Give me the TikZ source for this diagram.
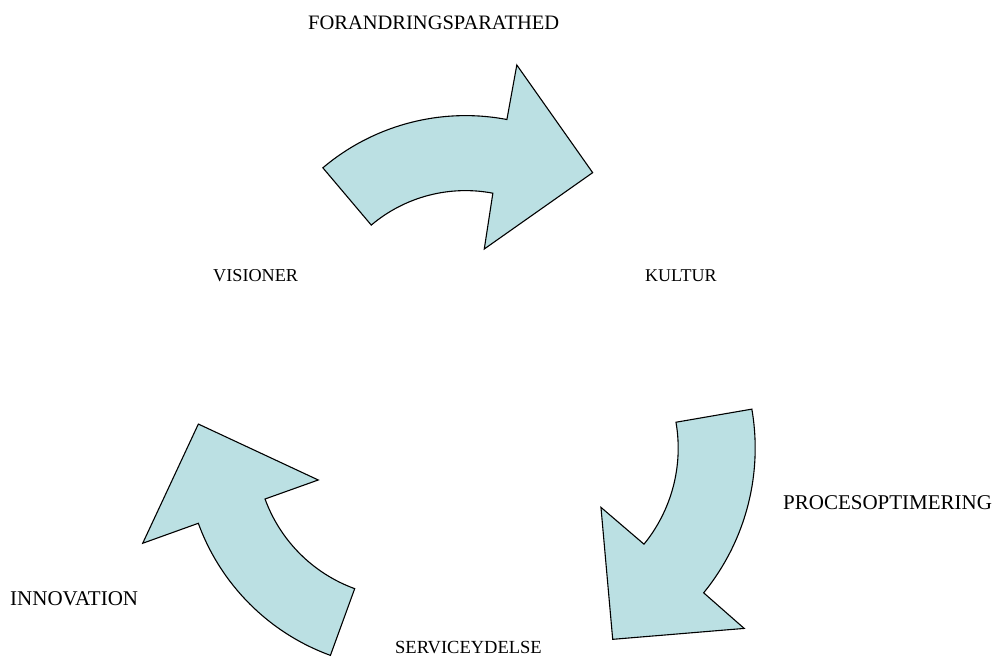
\documentclass[tikz,border=0pt]{standalone}
\usepackage{fontspec}
\setmainfont{Liberation Serif}
\definecolor{arrowfill}{RGB}{187,224,227}
\begin{document}
\begin{tikzpicture}[x=1pt,y=1pt,
  cyclearrow/.style={fill=arrowfill,draw=black,line width=1.1pt,line join=miter},
  lbl/.style={anchor=base west,inner sep=0pt,text=black}]
\useasboundingbox (0,0) rectangle (994,657);

% top arrow: from VISIONER towards KULTUR
\begin{scope}[shift={(465.5,320.4)}]
  \draw[cyclearrow] (130.2:221) arc[start angle=130.2,end angle=79.2,radius=221]
    -- (79.3:276.4) -- (52.2:207.5) -- (77.9:89.6) -- (79.2:146)
    arc[start angle=79.2,end angle=130.2,radius=146] -- cycle;
\end{scope}

% right arrow: from KULTUR down towards SERVICEYDELSE
\begin{scope}[shift={(526.2,208.9)}]
  \draw[cyclearrow] (9.8:229) arc[start angle=9.8,end angle=-39.2,radius=229]
    -- (-39.6:282.9) -- (-65.66:209.9) -- (-38.4:95.4) -- (-39.2:152)
    arc[start angle=-39.2,end angle=9.8,radius=152] -- cycle;
\end{scope}

% left arrow: from SERVICEYDELSE up towards VISIONER
\begin{scope}[shift={(406,209.3)}]
  \draw[cyclearrow] (-110:221) arc[start angle=-110,end angle=-160,radius=221]
    -- (-160.05:280.1) -- (173.5:209) -- (-159.8:93.5) -- (-160:150)
    arc[start angle=-160,end angle=-110,radius=150] -- cycle;
\end{scope}

% labels
\node[lbl,font=\fontsize{20.5}{24}\selectfont] (forandring) at (308,627) {FORANDRINGSPARATHED};
\node[lbl,font=\fontsize{18.2}{22}\selectfont] (visioner) at (213,375.3) {VISIONER};
\node[lbl,font=\fontsize{18}{22}\selectfont] (kultur) at (645,375.3) {KULTUR};
\node[lbl,font=\fontsize{21}{25}\selectfont] (innovation) at (10,52) {INNOVATION};
\node[lbl,font=\fontsize{18.5}{22}\selectfont] (service) at (395,3.7) {SERVICEYDELSE};
\node[lbl,font=\fontsize{21}{25}\selectfont] (proces) at (783,147.7) {PROCESOPTIMERING};
\end{tikzpicture}
\end{document}
